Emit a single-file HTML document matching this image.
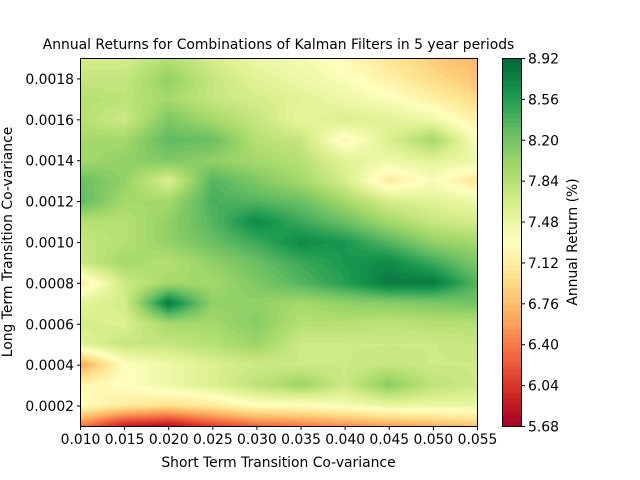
<!DOCTYPE html>
<html><head><meta charset="utf-8"><style>
body{margin:0;background:#fff;width:640px;height:480px;overflow:hidden;position:relative;font-family:"DejaVu Sans","Liberation Sans",sans-serif;color:#000}
canvas{position:absolute}
</style></head><body>
<canvas id="c" width="397" height="368" style="left:80px;top:58px"></canvas>
<canvas id="cb" width="19" height="368" style="left:502px;top:58px"></canvas>
<svg width="640" height="480" style="position:absolute;left:0;top:0" font-family="DejaVu Sans, Liberation Sans, sans-serif" font-size="13.9">
<rect x="80.5" y="58.5" width="397" height="368" fill="none" stroke="#000" stroke-width="1"/>
<rect x="502.5" y="58.5" width="19" height="368" fill="none" stroke="#000" stroke-width="1"/>
<g id="tk" stroke="#000" stroke-width="1"></g>
<g id="tt"></g>
<text x="278.5" y="49" text-anchor="middle">Annual Returns for Combinations of Kalman Filters in 5 year periods</text>
<text x="278.5" y="467" text-anchor="middle">Short Term Transition Co-variance</text>
<text transform="translate(12,242) rotate(-90)" text-anchor="middle">Long Term Transition Co-variance</text>
<text transform="translate(577,242) rotate(-90)" text-anchor="middle">Annual Return (%)</text>
</svg>
<script>
var G=[
[6.4,5.9,5.8,6.1,6.3,6.4,6.5,6.6,6.7,6.8],
[7.3,7.1,7.0,7.1,7.3,7.3,7.4,7.5,7.5,7.5],
[7.2,7.3,7.45,7.6,7.8,8.0,7.7,8.1,7.8,7.7],
[6.6,7.3,7.45,7.6,7.7,7.7,7.7,7.75,7.7,7.7],
[7.55,7.75,7.75,7.85,8.0,7.7,7.7,7.7,7.7,7.75],
[7.65,7.6,7.95,7.95,8.1,7.85,7.85,7.8,7.85,7.85],
[7.55,7.65,8.8,8.05,8.05,7.95,8.05,8.1,8.15,8.2],
[7.1,7.7,7.95,7.95,8.15,8.35,8.55,8.8,8.8,8.35],
[7.7,7.95,7.85,8.05,8.25,8.45,8.6,8.7,8.45,8.15],
[7.75,7.85,8.05,8.25,8.45,8.7,8.6,8.35,8.05,7.95],
[7.85,7.85,8.05,8.35,8.7,8.45,8.25,7.95,7.75,7.65],
[8.3,7.95,7.95,8.4,8.35,8.25,7.95,7.65,7.55,7.45],
[8.25,8.05,7.6,8.35,8.15,7.95,7.65,7.1,7.35,7.05],
[7.95,8.05,8.15,8.05,7.95,7.85,7.55,7.45,7.55,7.45],
[7.95,7.95,8.3,8.25,7.85,7.75,7.2,7.6,7.95,7.35],
[7.85,7.7,8.15,7.95,7.75,7.5,7.6,7.55,7.45,7.15],
[7.85,7.8,7.95,7.75,7.65,7.55,7.45,7.35,7.15,6.95],
[7.75,7.75,8.05,7.75,7.55,7.45,7.35,7.15,6.95,6.8],
[7.65,7.65,7.85,7.65,7.45,7.4,7.25,7.05,6.85,6.7]];
var S=[[165,0,38],[215,48,39],[244,109,67],[253,174,97],[254,224,139],[255,255,191],[217,239,139],[166,217,106],[102,189,99],[26,152,80],[0,104,55]];
var lo=5.68,hi=8.92,N=80;
function cm(t){t=Math.max(0,Math.min(1,t));var f=t*10,i=Math.min(9,Math.floor(f)),r=f-i,a=S[i],b=S[i+1];return [a[0]+(b[0]-a[0])*r,a[1]+(b[1]-a[1])*r,a[2]+(b[2]-a[2])*r];}
function q(v){var st=(hi-lo)/N;var k=Math.floor((v-lo)/st);return (k+0.5)/N;}
var c=document.getElementById('c').getContext('2d'),W=397,H=368,im=c.createImageData(W,H);
for(var py=0;py<H;py++){var gy=(H-1-py)/(H-1)*18,j=Math.min(17,Math.floor(gy)),fy=gy-j;
for(var px=0;px<W;px++){var gx=px/(W-1)*9,i=Math.min(8,Math.floor(gx)),fx=gx-i;
var v=(G[j][i]*(1-fx)+G[j][i+1]*fx)*(1-fy)+(G[j+1][i]*(1-fx)+G[j+1][i+1]*fx)*fy;
var col=cm(q(v)),o=(py*W+px)*4;im.data[o]=col[0];im.data[o+1]=col[1];im.data[o+2]=col[2];im.data[o+3]=255;}}
c.putImageData(im,0,0);
var cb=document.getElementById('cb').getContext('2d'),im2=cb.createImageData(19,368);
for(var py=0;py<368;py++){var col=cm(q(hi-(hi-lo)*py/367));for(var px=0;px<19;px++){var o=(py*19+px)*4;im2.data[o]=col[0];im2.data[o+1]=col[1];im2.data[o+2]=col[2];im2.data[o+3]=255;}}
cb.putImageData(im2,0,0);
var tk=document.getElementById('tk'),tt=document.getElementById('tt'),ns='http://www.w3.org/2000/svg';
function L(x1,y1,x2,y2){var l=document.createElementNS(ns,'line');l.setAttribute('x1',x1);l.setAttribute('y1',y1);l.setAttribute('x2',x2);l.setAttribute('y2',y2);tk.appendChild(l);}
function T(x,y,s,a){var t=document.createElementNS(ns,'text');t.setAttribute('x',x);t.setAttribute('y',y);t.setAttribute('text-anchor',a);t.textContent=s;tt.appendChild(t);}
for(var k=0;k<10;k++){var x=80.5+k*397/9;L(x,426.5,x,430);T(x,444,(0.010+0.005*k).toFixed(3),'middle');}
for(var k=1;k<=9;k++){var v=0.0002*k,y=426.5-(v-0.0001)/0.0018*368;L(77,y,80.5,y);T(74,y+5,v.toFixed(4),'end');}
for(var k=0;k<10;k++){var y=58.5+k*368/9;L(521.5,y,525,y);T(528,y+5,(8.92-0.36*k).toFixed(2),'start');}
</script>
</body></html>
